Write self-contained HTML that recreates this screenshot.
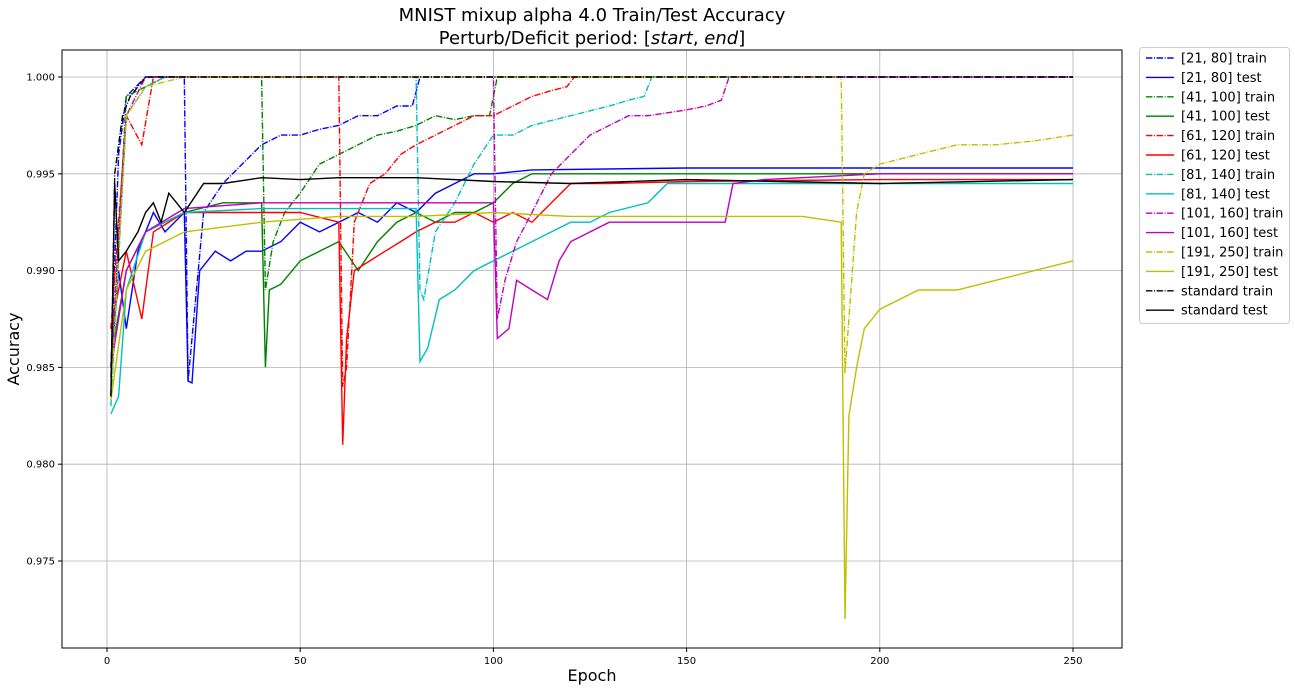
<!DOCTYPE html>
<html><head><meta charset="utf-8">
<style>
body{margin:0;background:#fff;font-family:"Liberation Sans","DejaVu Sans",sans-serif;}
svg text{font-family:"DejaVu Sans","Liberation Sans",sans-serif;}
</style></head>
<body>
<svg id="chart" width="1295" height="691" xmlns="http://www.w3.org/2000/svg">
<text x="592" y="21" font-size="18" text-anchor="middle">MNIST mixup alpha 4.0 Train/Test Accuracy</text>
<text x="592" y="44" font-size="18" text-anchor="middle">Perturb/Deficit period: [<tspan font-style="italic">start</tspan>, <tspan font-style="italic">end</tspan>]</text>
<g id="grid"></g>
<g id="series"></g>
<rect x="62" y="50" width="1060" height="598" fill="none" stroke="#000" stroke-width="1"/>
<g id="axes"></g>
<text x="592" y="681" font-size="16" text-anchor="middle">Epoch</text>
<text x="19" y="349" font-size="16" text-anchor="middle" transform="rotate(-90 19 349)">Accuracy</text>
<g id="legend"></g>
</svg>
<script>
const xTicks=[0,50,100,150,200,250];
const yTicks=[0.975,0.980,0.985,0.990,0.995,1.000];
const seriesNames=["[21, 80] train","[21, 80] test","[41, 100] train","[41, 100] test","[61, 120] train","[61, 120] test","[81, 140] train","[81, 140] test","[101, 160] train","[101, 160] test","[191, 250] train","[191, 250] test","standard train","standard test"];
const seriesColors=["#0000ff","#0000ff","#008000","#008000","#ff0000","#ff0000","#00bfbf","#00bfbf","#bf00bf","#bf00bf","#bfbf00","#bfbf00","#000000","#000000"];
const seriesDashed=[1,0,1,0,1,0,1,0,1,0,1,0,1,0];
const ep21tr=[1,3,5,10,20,21,22,25,30,35,40,45,50,55,60,65,70,75,79,81,250];
const v21tr=[0.985,0.996,0.999,1,1,0.9843,0.9865,0.993,0.9945,0.9955,0.9965,0.997,0.997,0.9973,0.9975,0.998,0.998,0.9985,0.9985,1,1];
const ep21te=[1,3,5,8,12,15,20,21,22,24,28,32,36,40,45,50,55,60,65,70,75,80,85,90,95,100,110,150,200,250];
const v21te=[0.985,0.99,0.987,0.991,0.993,0.992,0.993,0.9843,0.9842,0.99,0.991,0.9905,0.991,0.991,0.9915,0.9925,0.992,0.9925,0.993,0.9925,0.9935,0.993,0.994,0.9945,0.995,0.995,0.9952,0.9953,0.9953,0.9953];
const ep41tr=[1,5,10,15,40,41,43,46,50,55,60,65,70,75,80,85,90,95,99,101,250];
const v41tr=[0.9845,0.999,0.9995,1,1,0.989,0.9915,0.993,0.994,0.9955,0.996,0.9965,0.997,0.9972,0.9975,0.998,0.9978,0.998,0.998,1,1];
const ep41te=[1,5,10,15,20,30,40,41,42,45,50,55,60,65,70,75,80,85,90,95,100,105,110,150,200,250];
const v41te=[0.9855,0.99,0.992,0.9925,0.993,0.9935,0.9935,0.985,0.989,0.9893,0.9905,0.991,0.9915,0.99,0.9915,0.9925,0.993,0.9925,0.993,0.993,0.9935,0.9945,0.995,0.995,0.995,0.995];
const ep61tr=[1,5,9,12,60,61,62,64,68,72,76,80,85,90,95,100,105,110,115,119,121,250];
const v61tr=[0.987,0.998,0.9965,1,1,0.984,0.985,0.9925,0.9945,0.995,0.996,0.9965,0.997,0.9975,0.998,0.998,0.9985,0.999,0.9993,0.9995,1,1];
const ep61te=[1,5,9,12,20,30,40,50,60,61,62,64,68,72,76,80,85,90,95,100,105,110,115,120,130,150,200,250];
const v61te=[0.987,0.991,0.9875,0.992,0.993,0.993,0.993,0.993,0.9925,0.981,0.9865,0.99,0.9905,0.991,0.9915,0.992,0.9925,0.9925,0.993,0.9925,0.993,0.9925,0.9935,0.9945,0.9945,0.9946,0.9947,0.9947];
const ep81tr=[1,5,10,15,80,81,82,85,90,95,100,105,110,120,130,135,139,141,250];
const v81tr=[0.983,0.998,0.9995,1,1,0.989,0.9885,0.992,0.9935,0.9955,0.997,0.997,0.9975,0.998,0.9985,0.9988,0.999,1,1];
const ep81te=[1,3,5,10,20,40,80,81,83,86,90,95,100,105,110,115,120,125,130,140,145,150,200,250];
const v81te=[0.9826,0.9835,0.989,0.992,0.993,0.9932,0.9932,0.9853,0.986,0.9885,0.989,0.99,0.9905,0.991,0.9915,0.992,0.9925,0.9925,0.993,0.9935,0.9945,0.9945,0.9945,0.9945];
const ep101tr=[1,5,10,100,101,103,106,110,115,120,125,130,135,140,150,155,159,161,250];
const v101tr=[0.985,0.998,1,1,0.9875,0.9895,0.9915,0.993,0.995,0.996,0.997,0.9975,0.998,0.998,0.9983,0.9985,0.9988,1,1];
const ep101te=[1,5,10,20,40,60,80,100,101,104,106,110,114,117,120,130,140,150,160,162,170,200,250];
const v101te=[0.985,0.99,0.992,0.9932,0.9935,0.9935,0.9935,0.9935,0.9865,0.987,0.9895,0.989,0.9885,0.9905,0.9915,0.9925,0.9925,0.9925,0.9925,0.9945,0.9947,0.995,0.995];
const ep191tr=[1,5,10,20,190,191,192,194,196,200,210,220,230,240,250];
const v191tr=[0.9835,0.998,0.9995,1,1,0.9847,0.9875,0.993,0.995,0.9955,0.996,0.9965,0.9965,0.9967,0.997];
const ep191te=[1,5,10,15,20,40,60,80,100,120,140,160,180,190,191,192,194,196,200,205,210,220,230,240,250];
const v191te=[0.9833,0.989,0.991,0.9915,0.992,0.9925,0.9928,0.9928,0.993,0.9928,0.9928,0.9928,0.9928,0.9925,0.972,0.9825,0.985,0.987,0.988,0.9885,0.989,0.989,0.9895,0.99,0.9905];
const epStdTr=[1,2,4,6,8,10,250];
const vStdTr=[0.9835,0.995,0.998,0.999,0.9995,1,1];
const epStdTe=[1,2,3,5,8,10,12,14,16,18,20,25,30,40,50,60,80,100,120,150,200,250];
const vStdTe=[0.9835,0.9945,0.9905,0.991,0.992,0.993,0.9935,0.9925,0.994,0.9935,0.993,0.9945,0.9945,0.9948,0.9947,0.9948,0.9948,0.9946,0.9945,0.9947,0.9945,0.9947];
const allEpochs=[ep21tr,ep21te,ep41tr,ep41te,ep61tr,ep61te,ep81tr,ep81te,ep101tr,ep101te,ep191tr,ep191te,epStdTr,epStdTe];
const allValues=[v21tr,v21te,v41tr,v41te,v61tr,v61te,v81tr,v81te,v101tr,v101te,v191tr,v191te,vStdTr,vStdTe];

const NS="http://www.w3.org/2000/svg";
const X0=62,X1=1122,Y0=50,Y1=648;
function xs(e){return 107+(e)*(1073-107)/250;}
function ys(v){return 77+(1-v)*(561-77)/0.025;}
function mk(tag,attrs,parent){const el=document.createElementNS(NS,tag);for(const k in attrs)el.setAttribute(k,attrs[k]);parent.appendChild(el);return el;}
const grid=document.getElementById('grid'),axes=document.getElementById('axes'),ser=document.getElementById('series'),leg=document.getElementById('legend');
xTicks.forEach(t=>{const x=xs(t);
 const g=mk('line',{x1:x,x2:x,y1:Y0,y2:Y1,stroke:'#b0b0b0','stroke-width':0.8},grid);
 
 
 mk('line',{x1:x,x2:x,y1:Y1,y2:Y1+4,stroke:'#000'},axes);
 const tx=mk('text',{x:x,y:Y1+16,'font-size':10,'text-anchor':'middle'},axes);tx.textContent=t;
 
 
});
yTicks.forEach(t=>{const y=ys(t);
 const g=mk('line',{x1:X0,x2:X1,y1:y,y2:y,stroke:'#b0b0b0','stroke-width':0.8},grid);
 
 
 mk('line',{x1:X0-4,x2:X0,y1:y,y2:y,stroke:'#000'},axes);
 const tx=mk('text',{x:X0-7,y:y+3.5,'font-size':10,'text-anchor':'end'},axes);tx.textContent=t.toFixed(3);
 
 
});
const dash="6.4,1.6,1,1.6";
allEpochs.forEach((eps,i)=>{
 const d=eps.map((e,j)=>(j?'L':'M')+xs(e).toFixed(1)+','+ys(allValues[i][j]).toFixed(1)).join('');
 const p=mk('path',{d:d,fill:'none',stroke:seriesColors[i],'stroke-width':1.4},ser);
 if(seriesDashed[i])p.setAttribute('stroke-dasharray',dash);
 
 
});
const lb=mk('rect',{x:1139.5,y:47.5,width:150,height:276,rx:3,fill:'#fff',stroke:'#ccc'},leg);


seriesNames.forEach((n,i)=>{const y=58+i*19.4;
 const l=mk('line',{x1:1146,x2:1174,y1:y,y2:y,stroke:seriesColors[i],'stroke-width':1.4},leg);
 if(seriesDashed[i])l.setAttribute('stroke-dasharray',dash);
 
 
 const t=mk('text',{x:1181,y:y+4.5,'font-size':13},leg);t.textContent=n;
 
 
});
</script>
</body></html>
